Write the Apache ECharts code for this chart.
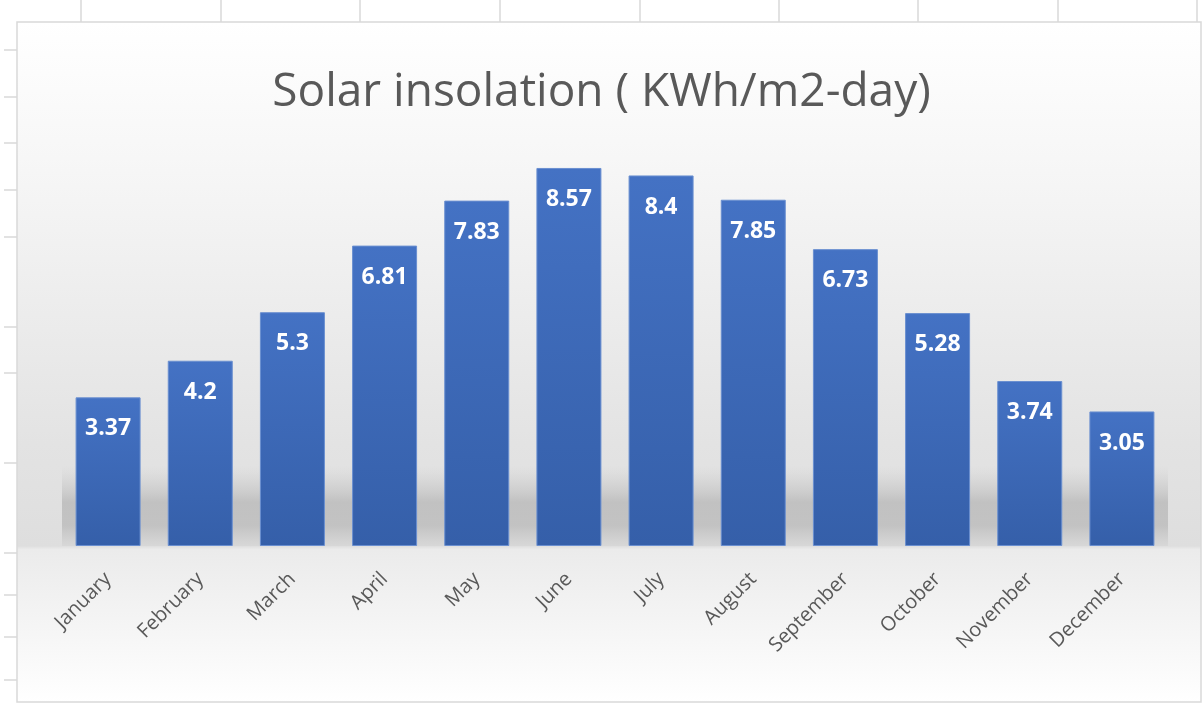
<!DOCTYPE html>
<html>
<head>
<meta charset="utf-8">
<style>
  html, body { margin: 0; padding: 0; background: #ffffff; }
  #chart { width: 1203px; height: 706px; }
</style>
<script src="https://cdn.jsdelivr.net/npm/echarts@6/dist/echarts.min.js"></script>
</head>
<body>
<div id="chart"></div>
<script>
// Monthly solar insolation, kWh per m2 per day
const months = ['January', 'February', 'March', 'April', 'May', 'June',
                'July', 'August', 'September', 'October', 'November', 'December'];
const insolation = [3.37, 4.2, 5.3, 6.81, 7.83, 8.57, 8.4, 7.85, 6.73, 5.28, 3.74, 3.05];
const titleText = 'Solar insolation ( KWh/m2-day)';

const chart = echarts.init(document.getElementById('chart'), null, { renderer: 'canvas' });

// Spreadsheet cell lines around the embedded chart
const colLines = [81, 221, 360, 500, 640, 779, 918, 1058, 1197];
const rowLines = [50, 97, 143, 190, 237, 327, 373, 463, 553, 595, 637, 680];
const sheetGraphics = [];
colLines.forEach(x => sheetGraphics.push({
  type: 'line', z: -20, silent: true,
  shape: { x1: x, y1: 0, x2: x, y2: 22 },
  style: { stroke: '#d9d9d9', lineWidth: 1.5 }
}));
rowLines.forEach(y => {
  sheetGraphics.push({
    type: 'line', z: -20, silent: true,
    shape: { x1: 4, y1: y, x2: 17, y2: y },
    style: { stroke: '#d9d9d9', lineWidth: 1.5 }
  });
});

const option = {
  backgroundColor: '#ffffff',
  animation: false,
  title: {
    text: titleText,
    left: 'center',
    top: 65,
    textStyle: {
      fontFamily: 'Open Sans',
      fontSize: 46,
      fontWeight: 'normal',
      color: '#595959'
    }
  },
  graphic: sheetGraphics.concat([
    {
      // chart panel with soft vertical shading
      type: 'rect', z: -10, silent: true,
      shape: { x: 17, y: 22, width: 1184, height: 680 },
      style: {
        fill: new echarts.graphic.LinearGradient(0, 0, 0, 1, [
          { offset: 0, color: '#ffffff' },
          { offset: 0.2, color: '#f7f7f7' },
          { offset: 0.62, color: '#e3e3e3' },
          { offset: 0.77, color: '#dedede' },
          { offset: 0.775, color: '#ebebeb' },
          { offset: 1, color: '#ffffff' }
        ]),
        stroke: '#d9d9d9',
        lineWidth: 1.5
      }
    },
    {
      // soft floor shadow behind the bars
      type: 'rect', z: -5, silent: true,
      shape: { x: 62, y: 466, width: 1106, height: 80 },
      style: {
        fill: new echarts.graphic.LinearGradient(0, 0, 0, 1, [
          { offset: 0, color: 'rgba(200,200,200,0)' },
          { offset: 0.45, color: 'rgba(180,180,180,0.7)' },
          { offset: 0.75, color: 'rgba(185,185,185,0.75)' },
          { offset: 1, color: 'rgba(210,210,210,0.55)' }
        ])
      }
    }
  ]),
  grid: {
    left: 62,
    right: 35,
    top: 149,
    bottom: 160
  },
  xAxis: {
    type: 'category',
    data: months,
    axisLine: { show: false },
    axisTick: { show: false },
    axisLabel: {
      rotate: 45,
      margin: 30,
      interval: 0,
      color: '#595959',
      fontFamily: 'Open Sans',
      fontSize: 20
    }
  },
  yAxis: {
    type: 'value',
    min: 0,
    max: 9,
    show: false,
    splitLine: { show: false }
  },
  series: [{
    type: 'bar',
    data: insolation,
    barWidth: 65,
    itemStyle: {
      color: new echarts.graphic.LinearGradient(0, 0, 0, 1, [
        { offset: 0, color: '#4472c4' },
        { offset: 1, color: '#355fa9' }
      ]),
      borderColor: '#6a8fd0',
      borderWidth: 1
    },
    label: {
      show: true,
      position: 'insideTop',
      distance: 20,
      color: '#ffffff',
      fontFamily: 'Open Sans',
      fontWeight: 'bold',
      fontSize: 23
    }
  }]
};

chart.setOption(option);
</script>
</body>
</html>
